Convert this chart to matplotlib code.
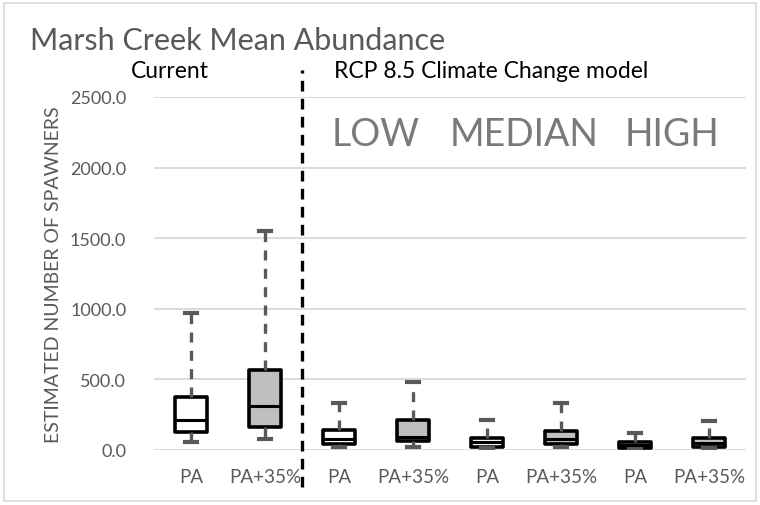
import matplotlib
matplotlib.use("Agg")
import matplotlib.pyplot as plt
from matplotlib.patches import Rectangle

# values (spawners)
labels = ["PA", "PA+35%", "PA", "PA+35%", "PA", "PA+35%", "PA", "PA+35%"]
whis_hi = [970, 1550, 335, 480, 215, 335, 120, 205]
q3 = [375, 565, 145, 215, 85, 135, 60, 85]
med = [210, 310, 75, 95, 55, 80, 35, 50]
q1 = [125, 160, 45, 65, 20, 40, 15, 20]
whis_lo = [60, 75, 20, 20, 15, 20, 10, 15]
fills = ["white", "#bfbfbf"] * 4
scenarios = ["LOW", "MEDIAN", "HIGH"]

GRAY = "#595959"
plt.rcParams["font.family"] = ["Lato", "DejaVu Sans"]

fig = plt.figure(figsize=(7.6, 5.06), dpi=100)
fig.patches.append(Rectangle((4 / 760, 4 / 506), 752 / 760, 498 / 506, transform=fig.transFigure,
                             fill=False, edgecolor="#d9d9d9", lw=1.2))
ax = fig.add_axes([154 / 760, 55 / 506, 592 / 760, 353 / 506])

stats = [dict(whislo=whis_lo[i], q1=q1[i], med=med[i], q3=q3[i], whishi=whis_hi[i], label=labels[i])
         for i in range(len(labels))]
pos = list(range(1, len(labels) + 1))
bp = ax.bxp(stats, positions=pos, widths=0.42, showfliers=False, patch_artist=True,
            boxprops=dict(edgecolor="black", linewidth=2.6),
            medianprops=dict(color="black", linewidth=2.2),
            whiskerprops=dict(color=GRAY, linewidth=2.4, linestyle=(0, (3, 2.5))),
            capprops=dict(color=GRAY, linewidth=3.0), capwidths=0.16)
for b, c in zip(bp["boxes"], fills):
    b.set_facecolor(c)
    b.set_joinstyle("round")

ax.set_xlim(0.5, 8.5)
ax.set_ylim(0, 2500)
ax.set_yticks(range(0, 2501, 500))
ax.set_yticklabels([f"{v:.1f}" for v in range(0, 2501, 500)], fontsize=13, color=GRAY)
ax.tick_params(axis="y", length=0, pad=20)
ax.tick_params(axis="x", length=0, pad=13, labelsize=13.5, labelcolor=GRAY)
ax.grid(axis="y", color="#d9d9d9", lw=1.3)
ax.set_axisbelow(True)
for s in ax.spines.values():
    s.set_visible(False)
ax.set_ylabel("ESTIMATED NUMBER OF SPAWNERS", fontsize=14, color=GRAY, labelpad=6)

# divider between current and climate change runs
ax.plot([2.5, 2.5], [-260, 2690], color="black", lw=2.4, ls=(0, (3.2, 2.2)), clip_on=False)

for i, s in enumerate(scenarios):
    ax.text(3.5 + 2 * i, 2240, s, ha="center", va="center", fontsize=27, color="#7a7a7a")

fig.text(30 / 760, 1 - 41 / 506, "Marsh Creek Mean Abundance", fontsize=22, color=GRAY,
         ha="left", va="center")
fig.text(170 / 760, 1 - 71 / 506, "Current", fontsize=16.5, color="black", ha="center", va="center")
fig.text(491 / 760, 1 - 71 / 506, "RCP 8.5 Climate Change model", fontsize=16.5, color="black",
         ha="center", va="center")

fig.savefig("out.png", dpi=100)
